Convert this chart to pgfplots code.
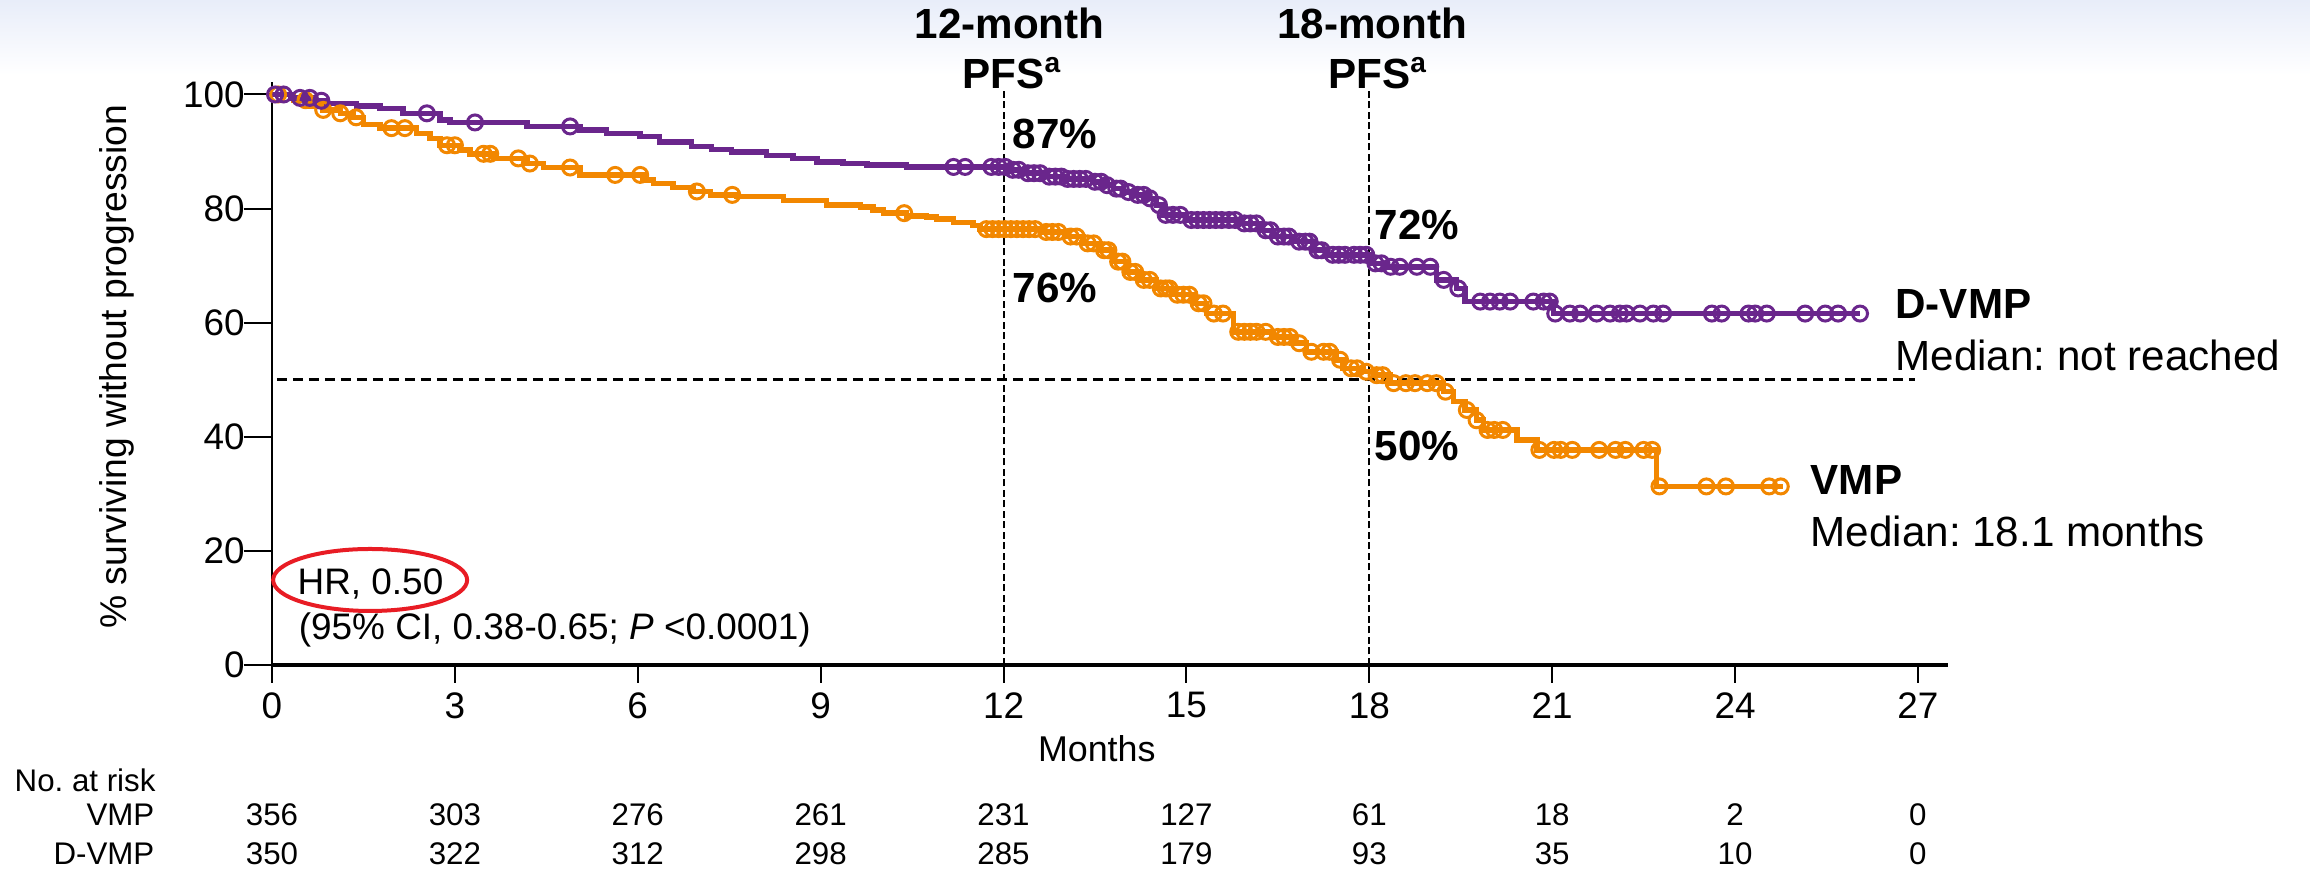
\documentclass[border=0pt]{standalone}
\usepackage{pgfplots}
\pgfplotsset{compat=1.18}
\usepackage{fontspec}
\setmainfont{Liberation Sans}
\frenchspacing
\definecolor{dvmp}{RGB}{106,38,140}
\definecolor{vmp}{RGB}{242,135,0}
\definecolor{bgtop}{RGB}{232,237,249}
\definecolor{hrred}{RGB}{232,28,36}
\newcommand{\fs}[1]{\fontsize{#1}{#1}\selectfont}
\begin{document}
\begin{tikzpicture}
\path[use as bounding box] (-27.2mm,-20.5mm) rectangle (203.8mm,66.5mm);
\shade[top color=bgtop, bottom color=white] (-27.2mm,59mm) rectangle (203.8mm,66.5mm);
\begin{axis}[
  at={(0,0)}, anchor=south west,
  x=6.096mm, y=0.5705mm,
  xmin=0, xmax=27.5, ymin=0, ymax=102.2,
  axis x line*=bottom, axis y line*=left,
  x axis line style={line width=0.4mm},
  y axis line style={line width=0.25mm},
  xtick={0,3,...,27}, ytick={0,20,...,100},
  tick align=outside,
  xtick style={line width=0.2mm, black, /pgfplots/major tick length=1.8mm},
  ytick style={line width=0.2mm, black, /pgfplots/major tick length=2.8mm},
  ticklabel style={font=\fs{10.5}},
  /pgf/number format/assume math mode=true,
  clip=false,
]
% reference lines
\addplot[black, line width=0.2mm, dash pattern=on 0.7mm off 0.35mm] coordinates {(12,0) (12,101.1)};
\addplot[black, line width=0.2mm, dash pattern=on 0.7mm off 0.35mm] coordinates {(18,0) (18,101.1)};
\addplot[black, line width=0.27mm, dash pattern=on 1mm off 0.6mm] coordinates {(0.08,50) (26.95,50)};

% VMP
\addplot[vmp, line width=0.55mm, const plot] coordinates {
(0,100) (0.35,99.0) (0.62,97.9) (0.84,97.3) (1.12,96.7) (1.33,96.0) (1.5,94.7) (1.77,94.1)
(2.37,93.2) (2.59,92.3) (2.76,91.1) (3.08,90.3) (3.25,89.6) (3.63,88.8) (4.18,87.9) (4.45,87.2)
(5.05,85.9) (6.09,85.0) (6.26,84.4) (6.58,83.7) (6.91,83.0) (7.19,82.4) (7.62,82.1) (8.39,81.4)
(9.10,80.6) (9.65,80.3) (9.86,79.75) (10.03,79.2) (10.41,78.7) (10.74,78.5) (10.90,78.2)
(11.18,77.6) (11.5,77.0) (11.61,76.4) (12.65,75.9) (13.04,75.1) (13.31,73.9) (13.58,72.7)
(13.8,70.7) (14.02,68.9) (14.24,67.5) (14.51,66.0) (14.79,64.9) (15.12,63.4) (15.33,61.6)
(15.77,58.4) (16.43,57.5) (16.75,56.4) (16.97,54.9) (17.46,53.5) (17.57,52.0) (17.9,51.4)
(18.07,50.8) (18.34,49.4) (19.22,47.9) (19.38,46.2) (19.57,44.7) (19.76,42.9) (19.87,41.2)
(20.42,39.4) (20.75,37.7) (22.71,31.3) (24.79,31.3)};
\addplot[vmp, only marks, mark=o, mark size=0.75mm, mark options={line width=0.3mm}] coordinates {
(0.1,100) (0.55,99.0) (0.84,97.3) (1.12,96.7) (1.38,96.0) (1.96,94.1) (2.18,94.1) (2.87,91.1)
(3.0,91.1) (3.47,89.6) (3.58,89.6) (4.04,88.8) (4.23,87.9) (4.89,87.2) (5.63,85.9) (6.04,85.9)
(6.97,83.0) (7.55,82.4) (10.37,79.2) (11.72,76.4) (11.82,76.4) (11.92,76.4) (12.02,76.4)
(12.12,76.4) (12.22,76.4) (12.32,76.4) (12.42,76.4) (12.52,76.4) (12.7,75.9) (12.8,75.9)
(12.9,75.9) (13.1,75.1) (13.2,75.1) (13.38,73.9) (13.48,73.9) (13.65,72.7) (13.72,72.7)
(13.88,70.7) (13.95,70.7) (14.08,68.9) (14.16,68.9) (14.3,67.5) (14.4,67.5) (14.58,66.0)
(14.66,66.0) (14.72,66.0) (14.85,64.9) (14.95,64.9) (15.05,64.9) (15.2,63.4) (15.28,63.4)
(15.45,61.6) (15.6,61.6) (15.85,58.4) (15.95,58.4) (16.05,58.4) (16.15,58.4) (16.3,58.4)
(16.5,57.5) (16.6,57.5) (16.7,57.5) (16.85,56.4) (17.05,54.9) (17.25,54.9) (17.35,54.9)
(17.52,53.5) (17.7,52.0) (17.8,52.0) (17.95,51.4) (18.12,50.8) (18.22,50.8) (18.4,49.4)
(18.6,49.4) (18.75,49.4) (18.95,49.4) (19.1,49.4) (19.25,47.9) (19.6,44.7) (19.76,42.9)
(19.94,41.2) (20.05,41.2) (20.19,41.2) (20.79,37.7) (21.03,37.7) (21.14,37.7) (21.33,37.7)
(21.77,37.7) (22.04,37.7) (22.2,37.7) (22.5,37.7) (22.64,37.7) (22.76,31.3) (23.53,31.3)
(23.85,31.3) (24.56,31.3) (24.75,31.3)};

% D-VMP
\addplot[dvmp, line width=0.55mm, const plot] coordinates {
(0,100) (0.3,99.4) (0.7,98.9) (0.9,98.45) (1.39,98.0) (1.77,97.5) (2.15,96.7) (2.76,95.5)
(2.92,95.1) (4.18,94.4) (5.05,93.8) (5.49,93.2) (6.04,92.6) (6.36,91.7) (6.88,90.9) (7.21,90.4)
(7.54,89.9) (8.11,89.3) (8.55,88.8) (8.94,88.2) (9.37,87.9) (9.76,87.6) (10.41,87.3) (12.1,86.8)
(12.35,86.2) (12.7,85.6) (13.0,85.2) (13.47,84.7) (13.65,84.1) (13.8,83.5) (13.97,82.9) (14.13,82.4)
(14.35,81.8) (14.51,80.6) (14.62,78.9) (15.0,78.0) (15.88,77.4) (16.21,76.2) (16.43,75.1)
(16.75,74.2) (17.08,72.7) (17.3,71.9) (18.01,70.4) (18.29,69.8) (19.10,67.5) (19.43,66.0)
(19.57,63.7) (21.02,61.6) (26.05,61.6)};
\addplot[dvmp, only marks, mark=o, mark size=0.75mm, mark options={line width=0.3mm}] coordinates {
(0.05,100) (0.19,100) (0.46,99.4) (0.62,99.4) (0.81,98.9) (2.54,96.7) (3.33,95.1) (4.89,94.4)
(11.18,87.3) (11.37,87.3) (11.8,87.3) (11.92,87.3) (12.03,87.3) (12.15,86.8) (12.25,86.8)
(12.4,86.2) (12.5,86.2) (12.6,86.2) (12.75,85.6) (12.85,85.6) (12.95,85.6) (13.05,85.2)
(13.15,85.2) (13.25,85.2) (13.35,85.2) (13.5,84.7) (13.6,84.7) (13.7,84.1) (13.85,83.5)
(13.92,83.5) (14.05,82.9) (14.2,82.4) (14.3,82.4) (14.4,81.8) (14.55,80.6) (14.66,78.9)
(14.78,78.9) (14.9,78.9) (15.08,78.0) (15.18,78.0) (15.28,78.0) (15.38,78.0) (15.48,78.0)
(15.58,78.0) (15.7,78.0) (15.8,78.0) (15.95,77.4) (16.05,77.4) (16.15,77.4) (16.3,76.2)
(16.38,76.2) (16.5,75.1) (16.6,75.1) (16.68,75.1) (16.85,74.2) (16.95,74.2) (17.02,74.2)
(17.15,72.7) (17.22,72.7) (17.4,71.9) (17.5,71.9) (17.6,71.9) (17.75,71.9) (17.85,71.9)
(17.95,71.9) (18.1,70.4) (18.2,70.4) (18.35,69.8) (18.5,69.8) (18.78,69.8) (19.0,69.8)
(19.22,67.5) (19.46,66.0) (19.82,63.7) (19.98,63.7) (20.14,63.7) (20.31,63.7) (20.69,63.7)
(20.86,63.7) (20.96,63.7) (21.05,61.6) (21.29,61.6) (21.46,61.6) (21.73,61.6) (21.95,61.6)
(22.11,61.6) (22.22,61.6) (22.44,61.6) (22.66,61.6) (22.82,61.6) (23.62,61.6) (23.78,61.6)
(24.22,61.6) (24.33,61.6) (24.52,61.6) (25.15,61.6) (25.48,61.6) (25.69,61.6) (26.05,61.6)};

% annotations
\node[anchor=base, font=\fs{12}\bfseries, inner sep=0] at (axis cs:12.1,109.9) {12-month};
\node[anchor=base, font=\fs{12}\bfseries, inner sep=0] at (axis cs:12,101.1) {PFS\rlap{\textsuperscript{a}}};
\node[anchor=base, font=\fs{12}\bfseries, inner sep=0] at (axis cs:18.05,109.9) {18-month};
\node[anchor=base, font=\fs{12}\bfseries, inner sep=0] at (axis cs:18,101.1) {PFS\rlap{\textsuperscript{a}}};
\node[anchor=base west, font=\fs{12}\bfseries, inner sep=0] at (axis cs:12.14,90.6) {87\%};
\node[anchor=base west, font=\fs{12}\bfseries, inner sep=0] at (axis cs:12.14,63.5) {76\%};
\node[anchor=base west, font=\fs{12}\bfseries, inner sep=0] at (axis cs:18.08,74.5) {72\%};
\node[anchor=base west, font=\fs{12}\bfseries, inner sep=0] at (axis cs:18.08,35.9) {50\%};
\node[anchor=base west, font=\fs{12}\bfseries, inner sep=0] at (axis cs:26.62,60.8) {D-VMP};
\node[anchor=base west, font=\fs{12}, inner sep=0] at (axis cs:26.62,51.7) {Median: not reached};
\node[anchor=base west, font=\fs{12}\bfseries, inner sep=0] at (axis cs:25.23,29.8) {VMP};
\node[anchor=base west, font=\fs{12}, inner sep=0] at (axis cs:25.23,20.7) {Median: 18.1 months};
\node[anchor=base west, font=\fs{10.5}, inner sep=0] at (axis cs:0.41,12.3) {HR, 0.50};
\node[anchor=base west, font=\fs{10.5}, inner sep=0] at (axis cs:0.43,4.4) {(95\% CI, 0.38-0.65; \textit{P} <0.0001)};
\draw[hrred, line width=0.4mm] (axis cs:1.61,14.9) ellipse [x radius=9.7mm, y radius=3.1mm];
\node[anchor=base, font=\fs{10.2}, inner sep=0] at (axis cs:13.53,-17.0) {Months};
\node[rotate=90, font=\fs{10.6}, inner sep=0] at (axis cs:-2.54,52.3) {\% surviving without progression};
\end{axis}
% number at risk table
\node[anchor=base west, font=\fs{8.9}, inner sep=0] at (-25.8mm,-12.7mm) {No. at risk};
\node[anchor=base east, font=\fs{8.9}, inner sep=0] at (-11.7mm,-16.1mm) {VMP};
\node[anchor=base east, font=\fs{8.9}, inner sep=0] at (-11.7mm,-20.0mm) {D-VMP};
\foreach \t/\a/\b in {0/356/350,3/303/322,6/276/312,9/261/298,12/231/285,15/127/179,18/61/93,21/18/35,24/2/10,27/0/0}{
  \node[anchor=base, font=\fs{8.9}, inner sep=0] at (\t*6.096mm,-16.1mm) {\a};
  \node[anchor=base, font=\fs{8.9}, inner sep=0] at (\t*6.096mm,-20.0mm) {\b};
}
\end{tikzpicture}
\end{document}
